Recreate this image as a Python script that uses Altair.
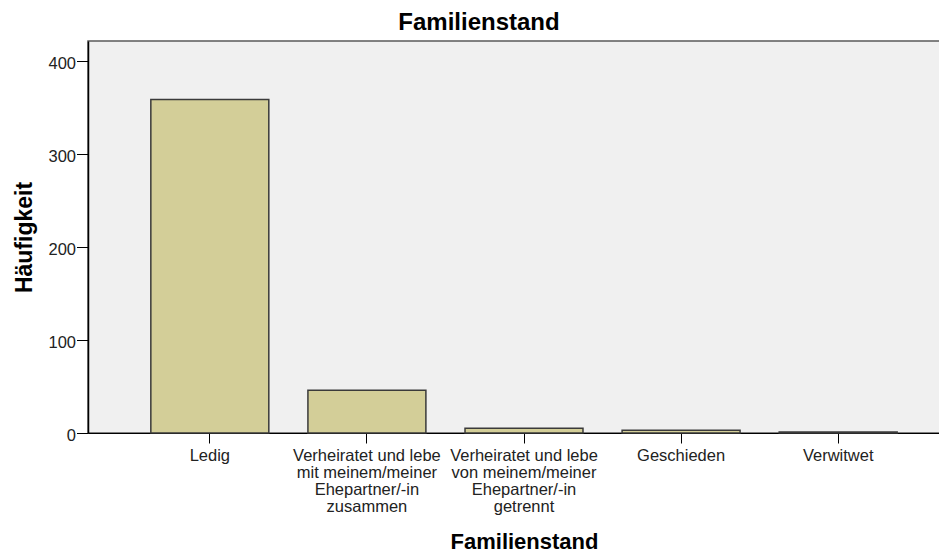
import altair as alt
import pandas as pd

# categories (| marks line breaks in the axis labels)
categories = [
    "Ledig",
    "Verheiratet und lebe|mit meinem/meiner|Ehepartner/-in|zusammen",
    "Verheiratet und lebe|von meinem/meiner|Ehepartner/-in|getrennt",
    "Geschieden",
    "Verwitwet",
]
counts = [359, 46, 5, 3, 1]
y_ticks = [0, 100, 200, 300, 400]

df = pd.DataFrame({"Familienstand": categories, "Häufigkeit": counts})

FONT = "Liberation Sans"

chart = (
    alt.Chart(df)
    .mark_bar(fill="#d3ce98", stroke="#3a3a3a", strokeWidth=1.5)
    .encode(
        x=alt.X(
            "Familienstand:N",
            sort=categories,
            scale=alt.Scale(paddingInner=0.249, paddingOuter=0.40),
            axis=alt.Axis(
                title="Familienstand",
                labelExpr="split(datum.label, '|')",
                labelAngle=0,
                labelFont=FONT,
                labelFontSize=16.5,
                labelColor="#222222",
                labelLineHeight=17,
                labelPadding=4,
                tickSize=10,
                tickColor="#000000",
                domainColor="#000000",
                domainWidth=1,
                titleFont=FONT,
                titleFontSize=22,
                titleFontWeight="bold",
                titleColor="#000000",
                titleBaseline="alphabetic",
                titleY=115,
            ),
        ),
        y=alt.Y(
            "Häufigkeit:Q",
            scale=alt.Scale(domain=[0, 422], nice=False),
            axis=alt.Axis(
                title="Häufigkeit",
                values=y_ticks,
                grid=False,
                labelFont=FONT,
                labelFontSize=16.5,
                labelColor="#222222",
                labelPadding=1,
                labelOffset=2,
                tickSize=11.5,
                tickColor="#000000",
                domainColor="#000000",
                domainWidth=1.5,
                titleFont=FONT,
                titleFontSize=23,
                titleFontWeight="bold",
                titleColor="#000000",
                titleAngle=270,
                titleBaseline="alphabetic",
                titleAlign="center",
                titleX=-57,
                titleY=196,
            ),
        ),
    )
    .properties(
        width=872,
        height=392,
        background="#ffffff",
        title=alt.TitleParams(
            "Familienstand",
            font=FONT,
            fontSize=24,
            fontWeight="bold",
            color="#000000",
            anchor="middle",
            frame="group",
            dx=-45,
            dy=25,
            offset=7,
            baseline="bottom",
        ),
        autosize=alt.AutoSizeParams(type="none"),
        padding={"left": 80, "top": 33, "right": -21, "bottom": 119},
    )
    .configure_view(fill="#f0f0f0", stroke="#5a5a5a", strokeWidth=1.5)
)

chart.save("out.html", embed_options={"renderer": "svg", "actions": False})
